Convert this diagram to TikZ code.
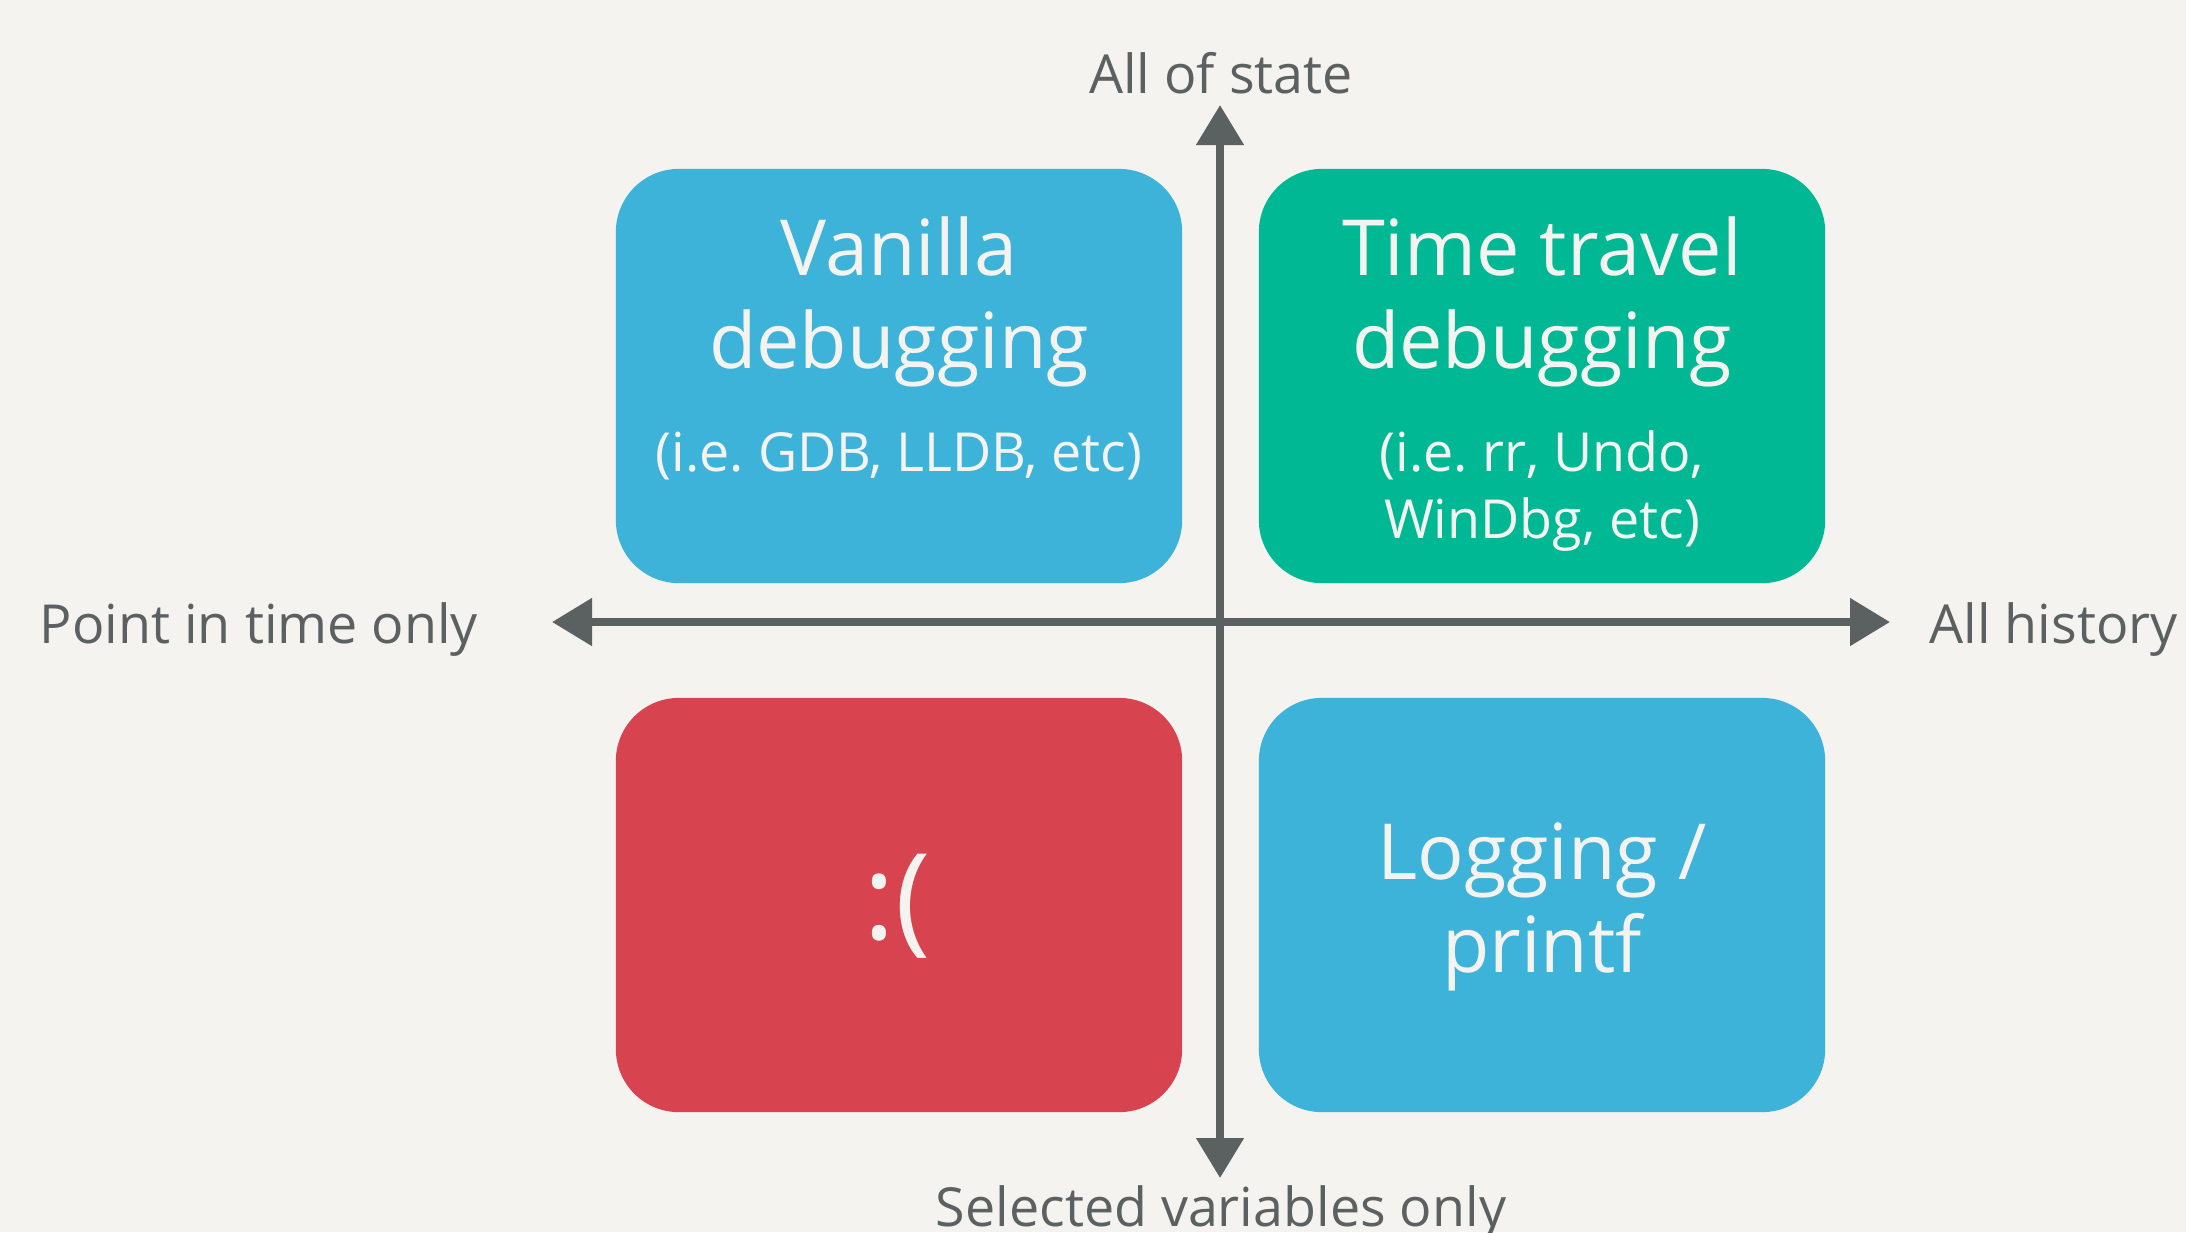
\documentclass[tikz,border=0pt]{standalone}
\usepackage{fontspec}
\setmainfont{Open Sans}
\frenchspacing
\usetikzlibrary{arrows.meta}

\definecolor{bgcream}{HTML}{F4F3EF}
\definecolor{quadblue}{HTML}{3DB3DA}
\definecolor{quadgreen}{HTML}{00B894}
\definecolor{quadred}{HTML}{D7434F}
\definecolor{axisgray}{HTML}{5B6060}

\tikzset{
  quad/.style={rounded corners=0.63cm, minimum width=5.66cm, minimum height=4.14cm, inner sep=0pt},
  quadtitle/.style={text=bgcream, align=center, anchor=base, inner sep=0pt, font=\fontsize{22}{26.2}\selectfont},
  quadsub/.style={text=bgcream, align=center, anchor=base, inner sep=0pt, font=\fontsize{15.3}{19}\selectfont},
  axislabel/.style={text=axisgray, inner sep=0pt, font=\fontsize{15.3}{19}\selectfont},
  axisline/.style={draw=axisgray, line width=0.08cm, {Triangle[length=0.4cm,width=0.46cm]}-{Triangle[length=0.4cm,width=0.46cm]}}
}

\begin{document}
\begin{tikzpicture}[x=0.01cm, y=-0.01cm]
                    \fill[bgcream] (0,0) rectangle (2186,1232);
                    \useasboundingbox (0,0) rectangle (2186,1232);
                    % quadrants
                    \node[quad, fill=quadblue] (vanilla) at (899,376) {};
                    \node[quad, fill=quadgreen] (timetravel) at (1542,376) {};
                    \node[quad, fill=quadred] (sad) at (899,905) {};
                    \node[quad, fill=quadblue] (logging) at (1542,905) {};
                    % base anchor sits on the last line
                    \node[quadtitle] (vanillatitle) at (899,368) {Vanilla\\debugging};
                    \node[quadsub] (vanillasub) at (899,471) {(i.e. GDB, LLDB, etc)};
                    \node[quadtitle] (timetitle) at (1542,368) {Time travel\\debugging};
                    \node[quadsub] (timesub) at (1542,538) {(i.e. rr, Undo,\\WinDbg, etc)};
                    \node[text=bgcream, font=\fontsize{34}{38}\selectfont] (sadface) at (897,906) {:(};
                    \node[quadtitle] (logtitle) at (1542,972) {Logging /\\printf};
                    % axes
                    \coordinate (ytop) at (1220,105);
                    \coordinate (ybot) at (1220,1178);
                    \coordinate (xleft) at (552,622);
                    \coordinate (xright) at (1890,622);
                    \draw[axisline] (ybot) -- (ytop);
                    \draw[axisline] (xleft) -- (xright);
                    \node[axislabel, anchor=base] (allstate) at (1221,93) {All of state};
                    \node[axislabel, anchor=base] (selvars) at (1221,1226) {Selected variables only};
                    \node[axislabel, anchor=base] (pointtime) at (259,643) {Point in time only};
                    \node[axislabel, anchor=base west] (allhist) at (1929,643) {All history};
                \end{tikzpicture}
\end{document}
